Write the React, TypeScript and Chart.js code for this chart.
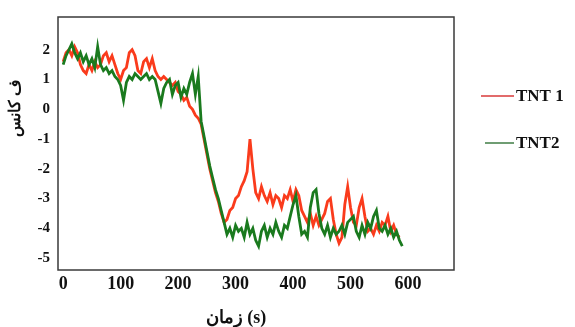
import React, { useEffect, useRef } from "react";
import { Chart, registerables } from "chart.js";

Chart.register(...registerables);

// time step of the sampled traces (s)
const STEP = 5;

const tnt1Values = [
  1.6, 1.9, 2.0, 1.8, 2.1, 1.9, 1.5, 1.3, 1.2, 1.5,
  1.3, 1.6, 1.4, 1.5, 1.8, 1.9, 1.6, 1.8, 1.5, 1.2,
  1.0, 1.3, 1.4, 1.9, 2.0, 1.8, 1.3, 1.2, 1.6, 1.7,
  1.4, 1.7, 1.3, 1.1, 1.0, 1.1, 1.0, 0.9, 0.8, 0.9,
  0.6, 0.5, 0.3, 0.4, 0.1, 0.0, -0.2, -0.3, -0.5, -1.0,
  -1.5, -2.0, -2.4, -2.8, -3.1, -3.5, -3.8, -3.7, -3.4, -3.3,
  -3.0, -2.9, -2.6, -2.4, -2.1, -1.0, -2.0, -2.8, -3.0, -2.6,
  -2.9, -3.1, -2.8, -3.2, -2.9, -3.0, -3.3, -2.9, -3.0, -2.7,
  -3.1, -2.7, -2.9, -3.4, -3.6, -3.8, -3.5, -3.9, -3.6, -3.9,
  -3.7, -3.5, -3.1, -3.0, -3.7, -4.2, -4.5, -4.3, -3.2, -2.6,
  -3.3, -3.8, -3.9, -3.3, -3.0, -3.6, -4.1, -4.0, -4.2, -3.9,
  -4.1, -3.8, -3.9, -3.6, -4.1, -3.9, -4.2, -4.3,
];

const tnt2Values = [
  1.5, 1.8, 2.0, 2.2, 1.9, 1.7, 1.9, 1.6, 1.8, 1.5,
  1.7, 1.4, 2.1, 1.5, 1.3, 1.4, 1.2, 1.3, 1.1, 1.0,
  0.8, 0.3, 0.9, 1.1, 1.0, 1.2, 1.1, 1.0, 1.1, 1.2,
  1.0, 1.1, 1.0, 0.6, 0.2, 0.7, 0.9, 1.0, 0.5, 0.8,
  0.9, 0.4, 0.7, 0.5, 0.9, 1.2, 0.5, 1.1, -0.4, -0.9,
  -1.4, -1.9, -2.3, -2.7, -3.0, -3.4, -3.8, -4.2, -4.0, -4.3,
  -3.9, -4.1, -4.0, -4.3, -3.8, -4.2, -4.0, -4.4, -4.6, -4.1,
  -3.9, -4.3, -4.0, -4.2, -3.8, -4.1, -4.3, -3.9, -4.0, -3.6,
  -3.2, -2.9, -3.6, -4.2, -4.1, -4.3, -3.3, -2.8, -2.7, -3.5,
  -4.0, -4.2, -3.9, -4.3, -4.0, -4.2, -4.1, -3.9, -4.2, -3.8,
  -3.7, -3.6, -4.1, -4.3, -3.9, -4.2, -3.8, -4.0, -3.6, -3.4,
  -4.0, -4.1, -3.9, -4.2, -4.0, -4.3, -4.1, -4.4, -4.6,
];

const xTicks = [0, 100, 200, 300, 400, 500, 600];
const yTicks = [-5, -4, -3, -2, -1, 0, 1, 2];
const seriesNames = ["TNT 1", "TNT2"];
const xTitle = "زمان (s)";
const yTitle = "ف کانس";

const RED = "#fa3b1c";
const GREEN = "#1a7a1e";

const toPoints = (vals: number[]) => vals.map((v, i) => ({ x: i * STEP, y: v }));

const overlay = {
  id: "overlay",
  afterDraw(chart: any) {
    const { ctx, chartArea } = chart;
    ctx.save();
    ctx.strokeStyle = "#3a3a3a";
    ctx.lineWidth = 1.5;
    ctx.strokeRect(chartArea.left, chartArea.top, chartArea.right - chartArea.left, chartArea.bottom - chartArea.top);

    // legend
    ctx.lineWidth = 1.5;
    ctx.font = "bold 17px 'Liberation Serif', 'Times New Roman', serif";
    ctx.fillStyle = "#111";
    ctx.textBaseline = "middle";
    ctx.textAlign = "left";
    ctx.strokeStyle = "#d93a3a";
    ctx.beginPath();
    ctx.moveTo(481, 96);
    ctx.lineTo(514, 96);
    ctx.stroke();
    ctx.fillText(seriesNames[0], 516, 97);
    ctx.strokeStyle = "#3f7d45";
    ctx.beginPath();
    ctx.moveTo(485, 143);
    ctx.lineTo(514, 143);
    ctx.stroke();
    ctx.fillText(seriesNames[1], 516, 144);

    // axis titles
    ctx.font = "bold 18px 'Liberation Serif', 'Times New Roman', serif";
    ctx.textAlign = "center";
    ctx.fillText(xTitle, 236, 318);
    ctx.save();
    ctx.translate(16, 108);
    ctx.rotate(-Math.PI / 2);
    ctx.font = "bold 16px 'Liberation Serif', 'DejaVu Serif', serif";
    ctx.fillText(yTitle, 0, 0);
    ctx.restore();
    ctx.restore();
  },
};

export default function App() {
  const ref = useRef<HTMLCanvasElement | null>(null);
  useEffect(() => {
    if (!ref.current) return;
    const chart = new Chart(ref.current, {
      type: "line",
      data: {
        datasets: [
          {
            label: seriesNames[0],
            data: toPoints(tnt1Values),
            borderColor: RED,
            borderWidth: 2.8,
            pointRadius: 0,
            tension: 0,
            order: 1,
          },
          {
            label: seriesNames[1],
            data: toPoints(tnt2Values),
            borderColor: GREEN,
            borderWidth: 2.8,
            pointRadius: 0,
            tension: 0,
            order: 0,
          },
        ],
      },
      options: {
        responsive: false,
        animation: false,
        layout: { padding: { top: 10, right: 121, left: 0, bottom: 0 } },
        plugins: { legend: { display: false }, tooltip: { enabled: false } },
        scales: {
          x: {
            type: "linear",
            min: -9,
            max: 680,
            afterBuildTicks: (s: any) => {
              s.ticks = xTicks.map((v) => ({ value: v }));
            },
            afterFit: (s: any) => {
              s.height = 57;
            },
            grid: { display: false, drawTicks: false },
            border: { display: false },
            ticks: {
              padding: 4,
              color: "#111",
              maxRotation: 0,
              font: { family: "'Liberation Serif', 'Times New Roman', serif", size: 18, weight: "bold" },
            },
          },
          y: {
            type: "linear",
            min: -5.4,
            max: 3.1,
            afterBuildTicks: (s: any) => {
              s.ticks = yTicks.map((v) => ({ value: v }));
            },
            afterFit: (s: any) => {
              s.width = 58;
            },
            grid: { display: false, drawTicks: false },
            border: { display: false },
            ticks: {
              padding: 8,
              color: "#111",
              font: { family: "'Liberation Serif', 'Times New Roman', serif", size: 15, weight: "bold" },
            },
          },
        },
      },
      plugins: [overlay],
    });
    return () => chart.destroy();
  }, []);
  return (
    <div style={{ position: "absolute", left: 0, top: 0, width: 575, height: 327, background: "#fff" }}>
      <canvas ref={ref} width={575} height={327} />
    </div>
  );
}
